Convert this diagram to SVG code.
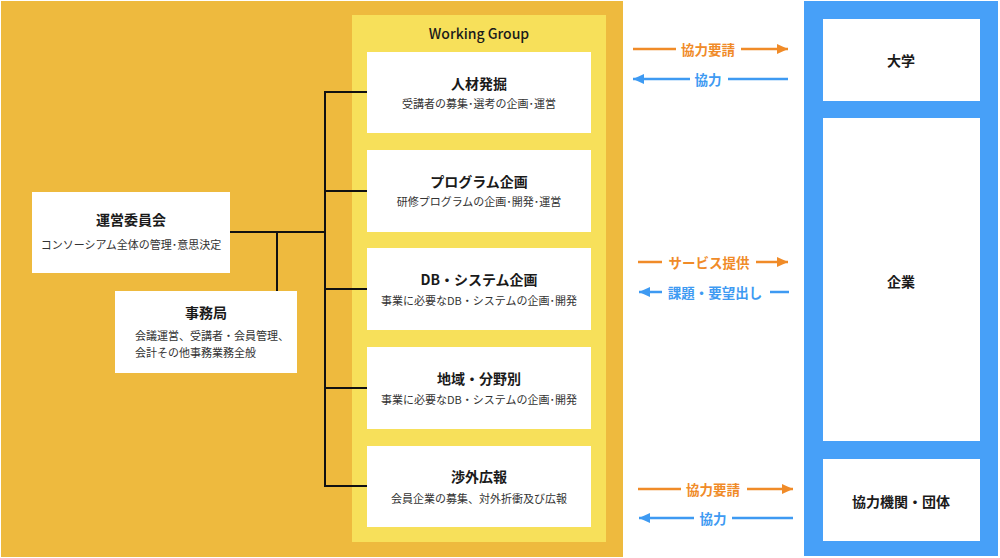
<svg xmlns="http://www.w3.org/2000/svg" width="1000" height="558" viewBox="0 0 1000 558">
<style>
text{font-family:"Noto Sans CJK JP","Noto Sans",sans-serif;text-anchor:middle;dominant-baseline:central}
.box{fill:#fff}
.t{font-size:14px;font-weight:bold;fill:#1a1a1a}
.s{font-size:11px;fill:#333}
.l{text-anchor:start}
.con{stroke:#111;stroke-width:2;fill:none}
.or{stroke:#F08B28;stroke-width:2.5;fill:none}
.bl{stroke:#3E9AF2;stroke-width:2.5;fill:none}
.ot{font-size:13.5px;font-weight:bold;fill:#F08B28}
.btx{font-size:13.5px;font-weight:bold;fill:#3E9AF2}
</style>
<defs>
<marker id="ao" markerUnits="userSpaceOnUse" markerWidth="12" markerHeight="12" refX="11" refY="6" orient="auto"><path d="M0,1 L11,6 L0,11 Z" fill="#F08B28"/></marker>
<marker id="ab" markerUnits="userSpaceOnUse" markerWidth="12" markerHeight="12" refX="11" refY="6" orient="auto"><path d="M0,1 L11,6 L0,11 Z" fill="#3E9AF2"/></marker>
</defs>
<rect x="0" y="0" width="1000" height="558" fill="#fff"/>
<rect id="org" x="1" y="1" width="622" height="556" fill="#EEBA3E"/>
<rect id="wg" x="352" y="15" width="254" height="527" fill="#F7E05A"/>
<text x="479" y="33" style="font-size:14px;font-weight:500;fill:#1a1a1a">Working Group</text>
<rect id="partners" x="804" y="1" width="194" height="555" fill="#47A0F8"/>

<g id="connectors">
<path class="con" d="M230,232 H325 M277,232 V291 M325,91 V487 M325,92 H367 M325,191 H367 M325,289 H367 M325,388 H367 M325,486 H367"/>
</g>

<g id="n-unei"><rect class="box" x="32" y="192" width="198" height="81"/><text class="t" x="131" y="219">運営委員会</text><text class="s" x="131" y="244">コンソーシアム全体の管理･意思決定</text></g>
<g id="n-jimu"><rect class="box" x="115" y="291" width="182" height="82"/><text class="t" x="206" y="312">事務局</text><text class="s l" x="135" y="335">会議運営、受講者・会員管理、</text><text class="s l" x="135" y="352">会計その他事務業務全般</text></g>

<g id="n-jinzai"><rect class="box" x="367" y="52" width="224" height="81"/><text class="t" x="479" y="83">人材発掘</text><text class="s" x="479" y="103">受講者の募集･選考の企画･運営</text></g>
<g id="n-prog"><rect class="box" x="367" y="150" width="224" height="82"/><text class="t" x="479" y="181">プログラム企画</text><text class="s" x="479" y="201">研修プログラムの企画･開発･運営</text></g>
<g id="n-db"><rect class="box" x="367" y="248" width="224" height="82"/><text class="t" x="479" y="279">DB・システム企画</text><text class="s" x="479" y="300">事業に必要なDB・システムの企画･開発</text></g>
<g id="n-chiiki"><rect class="box" x="367" y="347" width="224" height="82"/><text class="t" x="479" y="378">地域・分野別</text><text class="s" x="479" y="399">事業に必要なDB・システムの企画･開発</text></g>
<g id="n-shogai"><rect class="box" x="367" y="446" width="224" height="81"/><text class="t" x="479" y="476">渉外広報</text><text class="s" x="479" y="498">会員企業の募集、対外折衝及び広報</text></g>

<g id="n-univ"><rect class="box" x="823" y="19" width="157" height="82"/><text class="t" x="901" y="60">大学</text></g>
<g id="n-corp"><rect class="box" x="823" y="118" width="157" height="323"/><text class="t" x="901" y="281">企業</text></g>
<g id="n-kyoryoku"><rect class="box" x="823" y="459" width="157" height="82"/><text class="t" x="901" y="501">協力機関・団体</text></g>

<g id="arrows">
<path class="or" d="M633,49 H676"/><path class="or" d="M741,49 H788" marker-end="url(#ao)"/>
<text class="ot" x="708" y="49">協力要請</text>
<path class="bl" d="M690,79 H633" marker-end="url(#ab)"/><path class="bl" d="M728,79 H788"/>
<text class="btx" x="708" y="79">協力</text>

<path class="or" d="M638,262 H662"/><path class="or" d="M756,262 H788" marker-end="url(#ao)"/>
<text class="ot" x="709" y="262">サービス提供</text>
<path class="bl" d="M662,292 H639" marker-end="url(#ab)"/><path class="bl" d="M770,292 H789"/>
<text class="btx" x="715" y="292">課題・要望出し</text>

<path class="or" d="M638,489 H681"/><path class="or" d="M747,489 H793" marker-end="url(#ao)"/>
<text class="ot" x="713" y="489">協力要請</text>
<path class="bl" d="M694,518 H639" marker-end="url(#ab)"/><path class="bl" d="M732,518 H793"/>
<text class="btx" x="713" y="518">協力</text>
</g>
</svg>
